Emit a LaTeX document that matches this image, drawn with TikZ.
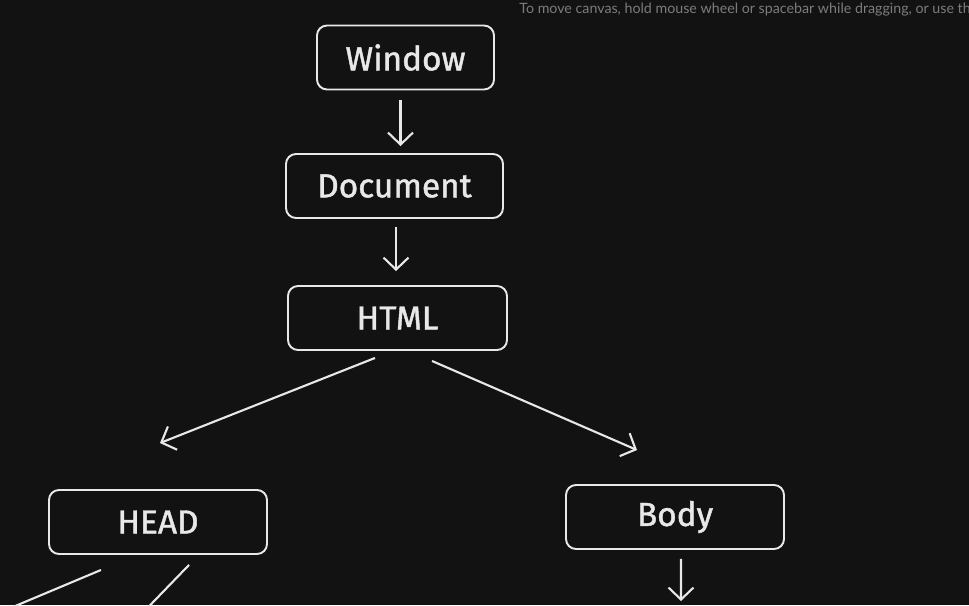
\documentclass[tikz,border=0pt]{standalone}
\usepackage{fontspec}
\setmainfont{Fira Sans}
\newfontfamily\boxfont[FakeBold=1.3]{Fira Sans}
\newfontfamily\hintfont{Lato}
\usetikzlibrary{positioning,arrows.meta}
\definecolor{canvas}{HTML}{121212}
\definecolor{ink}{HTML}{E8E8E8}
\definecolor{hint}{HTML}{7C7C7C}
\begin{document}
\begin{tikzpicture}[on grid,
    box/.style={draw=ink, line width=1.1pt, rounded corners=0.2cm, minimum height=1.28cm, text=ink, font=\boxfont\fontsize{19}{22}\selectfont},
    arr/.style={draw=ink, line width=1.2pt, -{Straight Barb[length=2.4mm,width=5mm]}}]
    \fill[canvas] (0,0) rectangle (19.38,-12.1);
    \clip (0,0) rectangle (19.38,-12.1);

    \node[anchor=base west, inner sep=0pt, text=hint, font=\hintfont\fontsize{8.1}{10}\selectfont] (hint) at (10.38,-0.28) {To move canvas, hold mouse wheel or spacebar while dragging, or use th};

    \node[box, minimum width=3.54cm] (win) at (8.11,-1.15) {Window};
    \node[box, minimum width=4.34cm, below=2.57cm of win, xshift=-0.22cm] (doc) {Document};
    \node[box, minimum width=4.38cm, below=2.64cm of doc, xshift=0.06cm] (html) {HTML};
    \node[box, minimum width=4.36cm, below left=4.08cm and 4.79cm of html] (head) {HEAD};
    \node[box, minimum width=4.36cm, below right=3.98cm and 5.55cm of html] (body) {Body};

    \coordinate (bodyout) at (13.62,-12.02);
    \coordinate (headout1) at (-0.6,-12.5);
    \coordinate (headout2) at (2.6,-12.52);

    \draw[arr] ([xshift=-0.1cm]win.south) ++(0,-0.2) -- ([shift={(0.12,0.14)}]doc.north);
    \draw[arr] ([shift={(0.03,-0.16)}]doc.south) -- ([shift={(-0.03,0.28)}]html.north);
    \draw[arr] ([shift={(-0.45,-0.14)}]html.south) -- ([shift={(0.04,0.92)}]head.north);
    \draw[arr] ([shift={(0.69,-0.2)}]html.south) -- ([shift={(-0.76,0.68)}]body.north);
    \draw[arr] ([shift={(0.12,-0.18)}]body.south) -- (bodyout);
    \draw[arr] ([shift={(-1.14,-0.3)}]head.south) -- (headout1);
    \draw[arr] ([shift={(0.62,-0.2)}]head.south) -- (headout2);
\end{tikzpicture}
\end{document}
